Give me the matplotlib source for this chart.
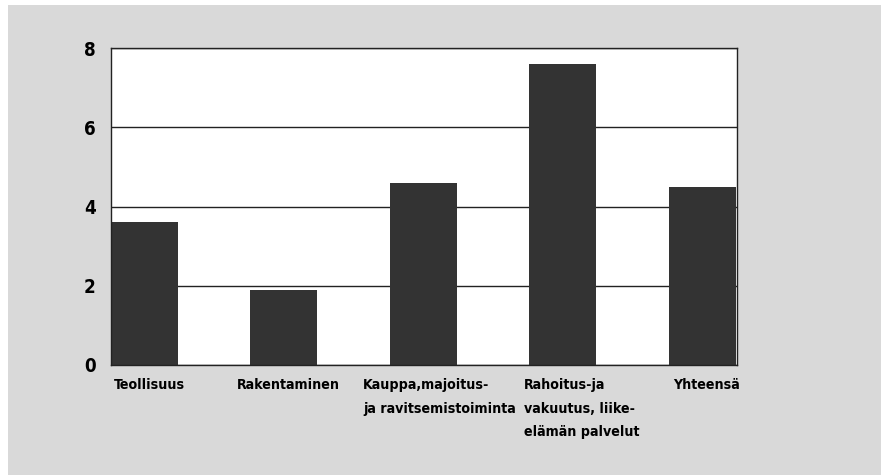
import matplotlib
matplotlib.use("Agg")
import matplotlib.pyplot as plt
from matplotlib.patches import Rectangle
from matplotlib import font_manager as fm

categories = ["Teollisuus", "Rakentaminen", "Kauppa,majoitus-\nja ravitsemistoiminta",
              "Rahoitus-ja\nvakuutus, liike-\nelämän palvelut", "Yhteensä"]
values = [3.6, 1.9, 4.6, 7.6, 4.5]
label_offsets = [0.02, -0.10, -0.19, -0.04, 0.03]
yticks = [0, 2, 4, 6, 8]

cond = [f for f in fm.fontManager.ttflist if f.name == "DejaVu Sans" and f.stretch == "condensed"]
fam = ["DejaVu Sans"]
stretch = "condensed" if cond else "normal"
lab_fs = 10.2 if cond else 9.3

fig = plt.figure(figsize=(8.81, 4.75), dpi=100)
fig.patch.set_facecolor("white")
fig.patches.append(Rectangle((8/881, 0), 1, 1 - 5/475, transform=fig.transFigure,
                             facecolor="#d9d9d9", edgecolor="none", zorder=-5))

ax = fig.add_axes([111/881, 1 - 365/475, 626/881, 317/475])
ax.set_facecolor("white")
x = list(range(len(values)))
ax.bar(x, values, width=0.48, align="edge", color="#333333", zorder=3)
ax.set_xlim(0, 4.49)
ax.set_ylim(0, 8)
ax.set_yticks(yticks)
ax.set_yticklabels([str(t) for t in yticks], fontsize=13.5, fontweight="bold",
                   family=fam, fontstretch=stretch)
ax.tick_params(axis="y", length=0, pad=11)
ax.set_xticks([])
ax.yaxis.grid(True, color="#222222", linewidth=1.0, zorder=1)
for s in ax.spines.values():
    s.set_color("#222222")
    s.set_linewidth(1.0)
    s.set_zorder(4)

for i, (lab, off) in enumerate(zip(categories, label_offsets)):
    ax.text(i + off, -0.32, lab, ha="left", va="top", fontsize=lab_fs, fontweight="bold",
            family=fam, fontstretch=stretch, linespacing=1.9,
            transform=ax.transData, clip_on=False)

fig.savefig("out.png", dpi=100)
